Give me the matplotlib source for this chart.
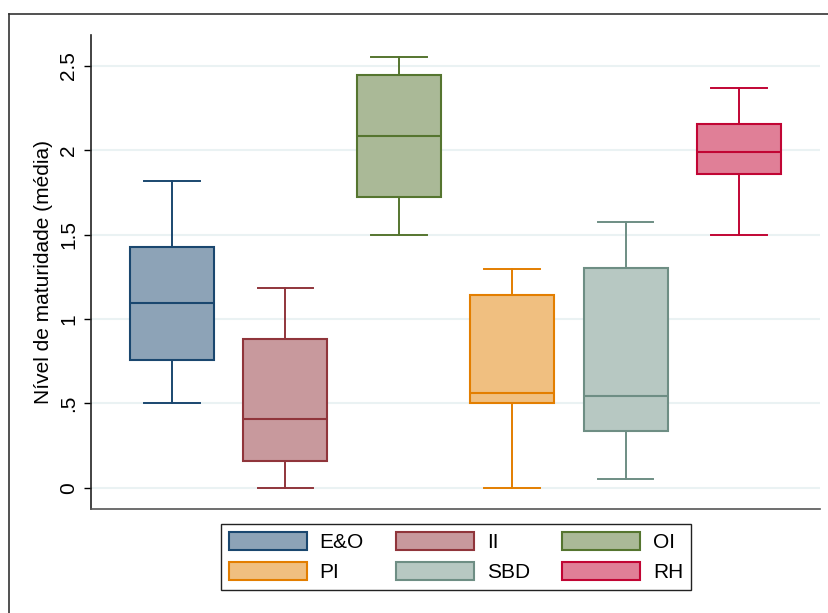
import matplotlib
matplotlib.use("Agg")
import matplotlib.pyplot as plt
from matplotlib.lines import Line2D
from matplotlib.patches import Patch

plt.rcParams['font.family'] = ['Liberation Sans', 'DejaVu Sans']

# data
groups = ['E&O', 'II', 'OI', 'PI', 'SBD', 'RH']
whisk_lo = [0.50, 0.00, 1.50, 0.00, 0.05, 1.50]
q1 = [0.757, 0.16, 1.725, 0.504, 0.338, 1.861]
med = [1.093, 0.407, 2.087, 0.56, 0.544, 1.988]
q3 = [1.425, 0.881, 2.448, 1.142, 1.304, 2.158]
whisk_hi = [1.818, 1.182, 2.555, 1.295, 1.573, 2.37]

edge_cols = ['#1a476f', '#90353b', '#55752f', '#e37e00', '#6e8e84', '#c10534']
fill_cols = ['#8da3b7', '#c8999d', '#aab997', '#f0bf80', '#b7c8c2', '#e07f97']

yticks = [0, 0.5, 1, 1.5, 2, 2.5]
ytick_labels = ['0', '.5', '1', '1.5', '2', '2.5']

FS = 15
W, H = 829, 613
fig = plt.figure(figsize=(W / 100, H / 100), dpi=100)
ax = fig.add_axes([91 / W, 1 - 509 / H, (820 - 91) / W, (509 - 35) / H])

stats = []
for i, g in enumerate(groups):
    stats.append(dict(label=g, whislo=whisk_lo[i], q1=q1[i], med=med[i],
                      q3=q3[i], whishi=whisk_hi[i], fliers=[]))

pos = list(range(1, len(groups) + 1))
bp = ax.bxp(stats, positions=pos, widths=0.74, capwidths=0.49,
            patch_artist=True, showfliers=False)
for i in range(len(groups)):
    ec, fc = edge_cols[i], fill_cols[i]
    bp['boxes'][i].set(facecolor=fc, edgecolor=ec, linewidth=1.5)
    bp['medians'][i].set(color=ec, linewidth=1.5)
    for k in (2 * i, 2 * i + 1):
        bp['whiskers'][k].set(color=ec, linewidth=1.4)
        bp['caps'][k].set(color=ec, linewidth=1.4)

ax.set_xlim(0.286, 6.714)
ax.set_ylim(-0.126, 2.684)
ax.set_xticks([])
ax.set_yticks(yticks)
ax.set_yticklabels(ytick_labels, rotation=90, va='center', fontsize=FS)
ax.tick_params(axis='y', direction='out', length=5, width=1, pad=4)
ax.yaxis.grid(True, color='#eaf2f3', linewidth=1.5)
ax.set_axisbelow(True)
for s in ('top', 'right'):
    ax.spines[s].set_visible(False)
ax.spines['left'].set(color='#222222', linewidth=1.2)
ax.spines['bottom'].set(color='#555555', linewidth=1.2)
ax.set_ylabel('Nível de maturidade (média)', fontsize=FS, labelpad=5)

# legend (column-major fill -> rows E&O, II, OI / PI, SBD, RH)
order = [0, 3, 1, 4, 2, 5]
handles = [Patch(facecolor=fill_cols[i], edgecolor=edge_cols[i], linewidth=1.5)
           for i in order]
labels = [groups[i] for i in order]
leg = fig.legend(handles, labels, ncol=3, loc='center',
                 bbox_to_anchor=(456 / W, 1 - 557 / H), fontsize=FS,
                 handlelength=3.75, handleheight=0.95, handletextpad=0.6,
                 columnspacing=1.55, labelspacing=0.45, borderpad=0.4,
                 fancybox=False, framealpha=1)
leg.get_frame().set(edgecolor='#222222', linewidth=1.0)

# outer frame (left and top edges of the original graph region)
fig.add_artist(Line2D([9 / W, 1], [1 - 14 / H] * 2, color='#333333', linewidth=1.2))
fig.add_artist(Line2D([9 / W] * 2, [0, 1 - 14 / H], color='#333333', linewidth=1.2))

fig.savefig('out.png', dpi=100)
